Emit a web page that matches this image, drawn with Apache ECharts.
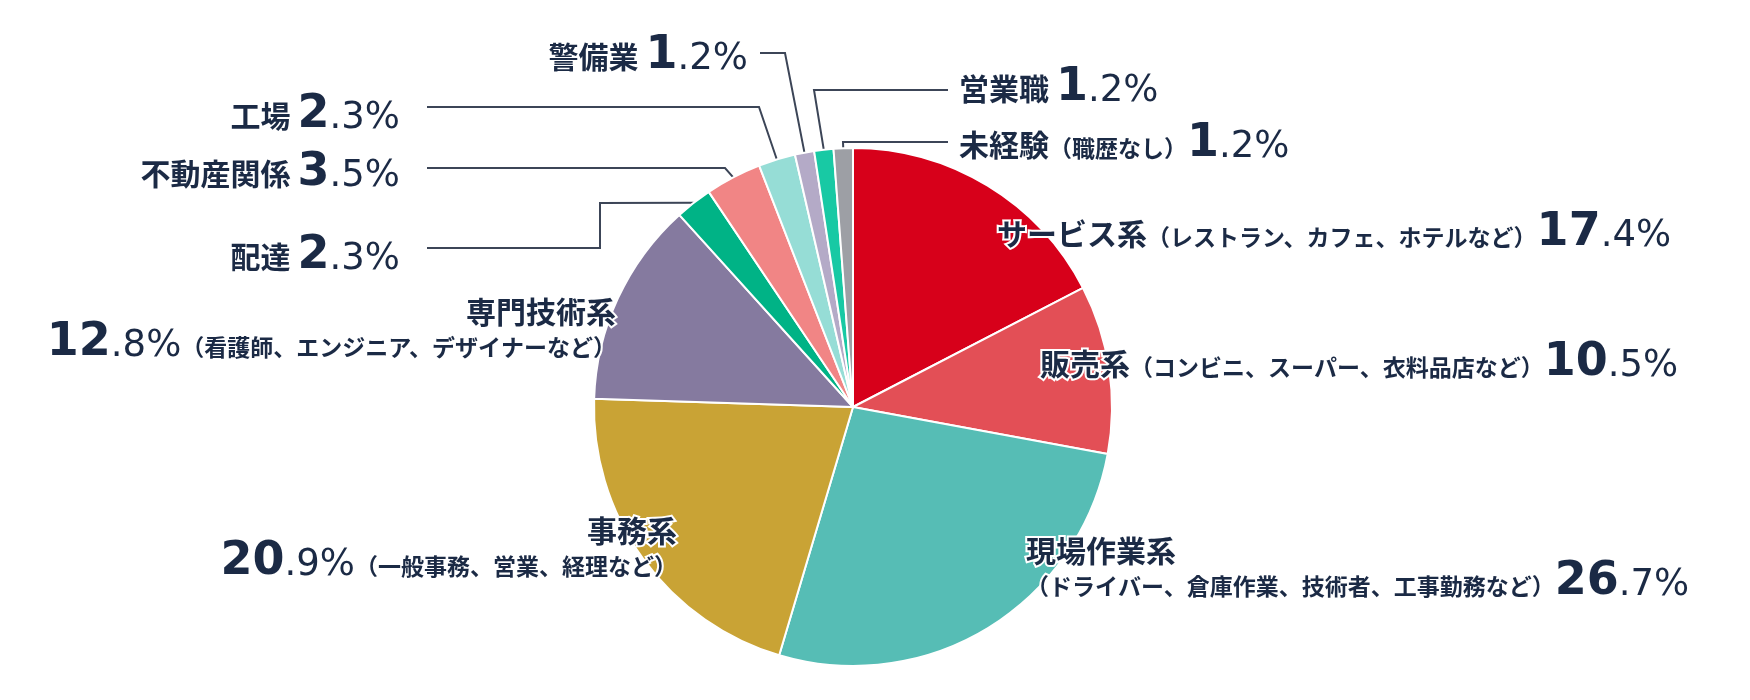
<!DOCTYPE html>
<html>
<head>
<meta charset="utf-8">
<script src="https://cdn.jsdelivr.net/npm/echarts@6.0.0/dist/echarts.min.js"></script>
<style>
  html, body { margin: 0; padding: 0; background: #fff; }
  #main { width: 1750px; height: 700px; }
</style>
</head>
<body>
<div id="main"></div>
<script>
// 職種の内訳（％）
var categories = ['サービス系', '販売系', '現場作業系', '事務系', '専門技術系', '配達', '不動産関係', '工場', '警備業', '営業職', '未経験'];
var notes = ['（レストラン、カフェ、ホテルなど）', '（コンビニ、スーパー、衣料品店など）', '（ドライバー、倉庫作業、技術者、工事勤務など）',
  '（一般事務、営業、経理など）', '（看護師、エンジニア、デザイナーなど）', '', '', '', '', '', '（職歴なし）'];
var shares = [17.4, 10.5, 26.7, 20.9, 12.8, 2.3, 3.5, 2.3, 1.2, 1.2, 1.2];

var colors = ['#d7001a', '#e34f56', '#56bdb5', '#c9a335', '#857a9f', '#00b386', '#f18585', '#96ddd6', '#b4aac7', '#18c9a4', '#9d9fa5'];
var ink = '#1b2a45';
var cjk = '"Noto Sans CJK JP", sans-serif';
var num = '"DejaVu Sans", "Noto Sans CJK JP", sans-serif';

// how each label is written, and where it sits
var labelKind = ['inline', 'inline', 'twoRow', 'twoRowPctFirst', 'twoRowPctFirst', 'short', 'short', 'short', 'short', 'short', 'inline'];
var labelSpots = [
  { x: 997, y: 233, align: 'left' },
  { x: 1040, y: 363, align: 'left' },
  { x: 1026, y: 566, align: 'left' },
  { x: 677, y: 546, align: 'right' },
  { x: 616, y: 327, align: 'right' },
  { x: 400, y: 256, align: 'right', line: [[600, 203], [600, 248], [427, 248]] },
  { x: 400, y: 173, align: 'right', line: [[725, 168], [427, 168]] },
  { x: 400, y: 115, align: 'right', line: [[759, 107], [427, 107]] },
  { x: 748, y: 56, align: 'right', line: [[785, 53], [760, 53]] },
  { x: 959, y: 88, align: 'left', line: [[814, 90], [948, 90]] },
  { x: 959, y: 144, align: 'left', line: [[843, 142], [948, 142]] }
];

function pct(v) {
  var p = v.toFixed(1).split('.');
  return '{int|' + p[0] + '}{dec|.' + p[1] + '%}';
}

function labelText(i) {
  var name = '{name|' + categories[i] + '}';
  var note = notes[i] ? '{note|' + notes[i] + '}' : '';
  switch (labelKind[i]) {
    case 'twoRow': return name + '\n' + note + pct(shares[i]);
    case 'twoRowPctFirst': return name + '\n' + pct(shares[i]) + note;
    case 'short': return name + '{gap| }' + pct(shares[i]);
    default: return name + note + pct(shares[i]);
  }
}

function richFor(align) {
  function s(extra) {
    var o = { color: ink, textBorderColor: '#fff', textBorderWidth: 4, lineHeight: 32, verticalAlign: 'bottom', align: align };
    for (var k in extra) o[k] = extra[k];
    return o;
  }
  return {
    name: s({ fontFamily: cjk, fontWeight: 'bold', fontSize: 30 }),
    note: s({ fontFamily: cjk, fontWeight: 'bold', fontSize: 23 }),
    gap: s({ fontFamily: num, fontSize: 22 }),
    int: s({ fontFamily: num, fontWeight: 'bold', fontSize: 46, verticalAlign: 'middle' }),
    dec: s({ fontFamily: num, fontWeight: 'normal', fontSize: 37, verticalAlign: 'top', padding: [1, 0, 0, 0] })
  };
}

var seriesData = shares.map(function (v, i) {
  var spot = labelSpots[i];
  return {
    name: categories[i],
    value: v,
    itemStyle: { color: colors[i] },
    label: { rich: richFor(spot.align) },
    labelLine: { show: !!spot.line }
  };
});

var myChart = echarts.init(document.getElementById('main'));
myChart.setOption({
  animation: false,
  backgroundColor: '#fff',
  series: [
    {
      type: 'pie',
      center: [853, 407],
      radius: 259,
      startAngle: 90,
      clockwise: true,
      avoidLabelOverlap: false,
      emphasis: { disabled: true },
      itemStyle: { borderColor: '#fff', borderWidth: 2 },
      label: {
        show: true,
        position: 'outside',
        width: 800,
        overflow: 'none',
        color: ink,
        textBorderColor: '#fff',
        textBorderWidth: 4,
        formatter: function (p) { return labelText(p.dataIndex); }
      },
      labelLine: {
        show: true,
        length: 10,
        length2: 10,
        lineStyle: { color: '#3c4557', width: 2 }
      },
      labelLayout: function (params) {
        var spot = labelSpots[params.dataIndex];
        var out = { x: spot.x, y: spot.y, align: spot.align, verticalAlign: 'middle' };
        if (spot.line && params.labelLinePoints) {
          out.labelLinePoints = [params.labelLinePoints[0]].concat(spot.line);
        }
        return out;
      },
      data: seriesData
    }
  ]
});
</script>
</body>
</html>
